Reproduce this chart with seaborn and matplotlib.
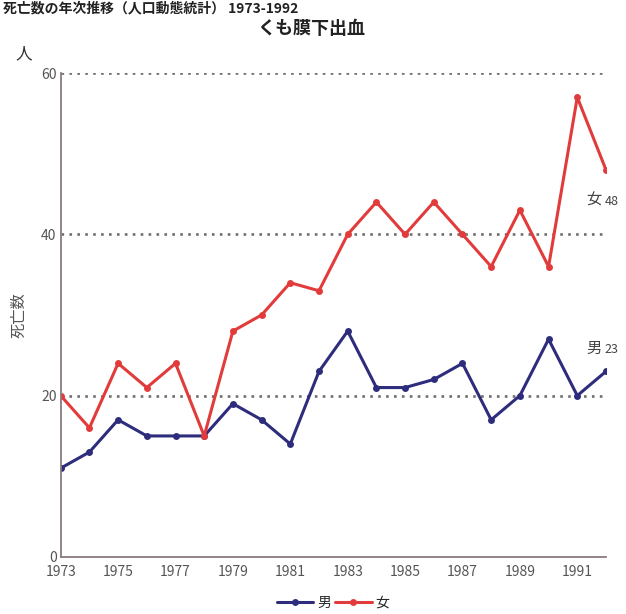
import pandas as pd
import numpy as np
import seaborn as sns
import matplotlib.pyplot as plt

# data
years = list(range(1973, 1993))
male = [11, 13, 17, 15, 15, 15, 19, 17, 14, 23, 28, 21, 21, 22, 24, 17, 20, 27, 20, 23]
female = [20, 16, 24, 21, 24, 15, 28, 30, 34, 33, 40, 44, 40, 44, 40, 36, 43, 36, 57, 48]
series_names = ["男", "女"]
colors = ["#2e2c7c", "#e23b3b"]
year_labels = [str(y) for y in range(1973, 1992, 2)]
y_ticks = [0, 20, 40, 60]

df = pd.DataFrame({
    "year": years * 2,
    "deaths": male + female,
    "sex": [series_names[0]] * len(years) + [series_names[1]] * len(years),
})

sns.set_style("white")
plt.rcParams['font.family'] = ['Noto Sans CJK JP', 'DejaVu Sans']

fig = plt.figure(figsize=(6.26, 6.14), dpi=100)
ax = fig.add_axes([0.097, 0.093, 0.871, 0.788])

# dotted grid lines at 20/40/60
for v in y_ticks[1:]:
    ax.axhline(v, color="#6f6f6f", linestyle=(0, (1.0, 2.0)), linewidth=1.9, zorder=0)

sns.lineplot(data=df, x="year", y="deaths", hue="sex", palette=colors,
             marker="o", markersize=5, markeredgewidth=0, linewidth=2.2, ax=ax)

ax.set_xlim(1973, 1992)
ax.set_ylim(0, 60)
ax.set_xticks(range(1973, 1993))
ax.set_xticklabels([str(y) if str(y) in year_labels else "" for y in range(1973, 1993)])
ax.set_yticks(y_ticks)
ax.tick_params(axis="x", direction="inout", length=7, width=1, color="#8a7a80",
               labelsize=10, labelcolor="#555555", pad=2)
ax.tick_params(axis="y", length=0, labelsize=10, labelcolor="#555555", pad=3)
for s in ["top", "right"]:
    ax.spines[s].set_visible(False)
for s in ["left", "bottom"]:
    ax.spines[s].set_color("#8a7a80")
    ax.spines[s].set_linewidth(1.3)
ax.set_xlabel("")
ax.set_ylabel("死亡数", fontsize=11, color="#555555", labelpad=10)

# end labels
ax.text(1991.3, female[-1] - 4.3, "女", fontsize=11, color="#444444")
ax.text(1991.95, female[-1] - 4.3, "48", fontsize=9, color="#444444")
ax.text(1991.3, male[-1] + 2.3, "男", fontsize=11, color="#444444")
ax.text(1991.95, male[-1] + 2.3, "23", fontsize=9, color="#444444")

fig.text(0.025, 0.905, "人", fontsize=12, color="#333333")
fig.text(0.497, 0.945, "くも膜下出血", fontsize=13, fontweight="bold", ha="center", color="#222222")
fig.text(0.005, 0.997, "死亡数の年次推移（人口動態統計） 1973-1992", fontsize=10,
         fontweight="bold", color="#222222", va="top")

leg = ax.legend(loc="upper center", bbox_to_anchor=(0.5, -0.055), ncol=2, frameon=False,
                fontsize=10, handlelength=2.6, columnspacing=0.3, handletextpad=0.3)

fig.savefig("out.png", dpi=100, facecolor="white")
